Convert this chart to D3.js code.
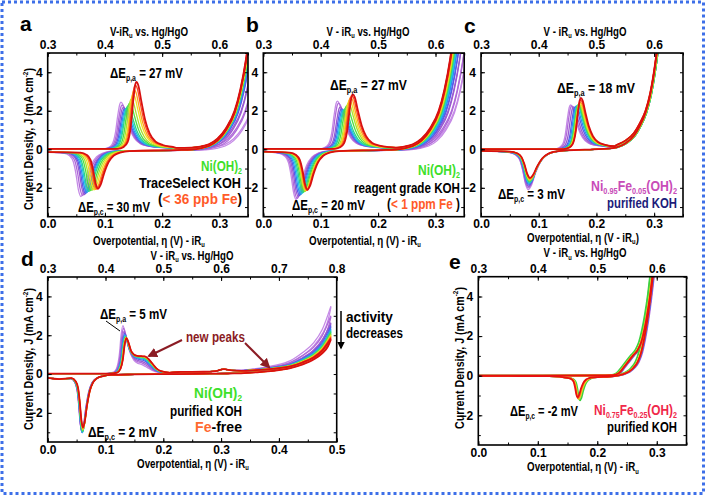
<!DOCTYPE html>
<html><head><meta charset="utf-8">
<script src="https://cdn.jsdelivr.net/npm/d3@7"></script>
<style>
body{margin:0;background:#fff}
svg{display:block}
text{font-family:'Liberation Sans',Arial,sans-serif;font-weight:bold}
</style>
</head><body>
<svg id="c" width="709" height="497"></svg>
<script>
// ---------------- DATA ----------------
const cycleColors = ['#c58ae6','#b06ad8','#9a5ad0','#5a5ae8','#2f8cf0','#20c4e0','#2ed38a','#4ee040','#a8e030','#f2e020','#ffa020','#ff4a1a','#d81010'];
const eColors = ['#b06ad8','#3d5ee8','#3dd040','#f2e020','#ff8a20','#e81010'];

const xTicks035 = [0, 0.1, 0.2, 0.3];
const xTicks05 = [0, 0.1, 0.2, 0.3, 0.4, 0.5];
const topLabels035 = ['0.3','0.4','0.5','0.6'];
const topLabels05 = ['0.3','0.4','0.5','0.6','0.7','0.8'];
const yTicks = [-2, 0, 2, 4];

// panel a : Ni(OH)2, TraceSelect KOH
const aPeakE = [0.128,0.130,0.132,0.134,0.136,0.138,0.140,0.143,0.146,0.149,0.151,0.153,0.155];
const aPeakJ = [2.45,2.30,2.18,2.10,2.10,2.15,2.25,2.40,2.60,2.85,3.10,3.35,3.50];
const aCathE = [0.058,0.061,0.064,0.066,0.068,0.070,0.072,0.075,0.078,0.081,0.084,0.086,0.088];
const aCathJ = [-2.45,-2.40,-2.35,-2.30,-2.25,-2.20,-2.18,-2.15,-2.12,-2.10,-2.08,-2.06,-2.05];
const aOerE  = [0.355,0.345,0.338,0.333,0.331,0.330,0.329,0.329,0.328,0.328,0.327,0.327,0.3265];

// panel b : Ni(OH)2, reagent grade KOH
const bPeakE = [0.129,0.131,0.134,0.136,0.138,0.140,0.142,0.145,0.148,0.150,0.152,0.154,0.156];
const bPeakJ = [2.50,2.40,2.20,2.10,2.05,2.05,2.10,2.25,2.40,2.55,2.70,2.80,2.85];
const bCathE = [0.057,0.059,0.061,0.063,0.065,0.067,0.069,0.071,0.073,0.074,0.075,0.076,0.077];
const bCathJ = [-2.60,-2.55,-2.45,-2.40,-2.35,-2.30,-2.25,-2.20,-2.18,-2.15,-2.13,-2.12,-2.10];
const bOerE  = [0.333,0.328,0.322,0.318,0.315,0.313,0.311,0.310,0.309,0.308,0.307,0.306,0.3055];

// panel c : Ni0.95Fe0.05(OH)2, purified KOH
const cPeakE = [0.155,0.157,0.160,0.163,0.165,0.167,0.168,0.169,0.170,0.171,0.172,0.1725,0.173];
const cPeakJ = [2.30,2.25,2.20,2.20,2.25,2.28,2.30,2.33,2.36,2.40,2.45,2.55,2.67];
const cCathE = [0.082,0.082,0.0825,0.083,0.083,0.0835,0.084,0.084,0.0845,0.0845,0.085,0.085,0.085];
const cCathJ = [-2.10,-2.00,-1.93,-1.86,-1.80,-1.75,-1.70,-1.66,-1.62,-1.58,-1.55,-1.52,-1.48];
const cOerE  = [0.287,0.287,0.286,0.286,0.286,0.287,0.287,0.287,0.286,0.286,0.285,0.285,0.285];

// panel d : Ni(OH)2, purified Fe-free KOH
const dPeakE = [0.130,0.131,0.132,0.133,0.133,0.134,0.134,0.135,0.135,0.135,0.136,0.136,0.136];
const dPeakJ = [2.50,2.35,2.20,2.10,2.02,1.97,1.93,1.91,1.89,1.88,1.87,1.86,1.85];
const dShoulderJ = [0.40,0.48,0.55,0.62,0.68,0.72,0.75,0.77,0.79,0.80,0.81,0.82,0.82];
const dCathE = [0.059,0.059,0.0595,0.0595,0.060,0.060,0.060,0.0605,0.0605,0.061,0.061,0.061,0.061];
const dCathJ = [-2.95,-2.95,-3.00,-3.02,-3.02,-3.00,-2.96,-2.92,-2.88,-2.85,-2.82,-2.78,-2.75];
const dEndJ  = [3.45,2.95,2.60,2.45,2.30,2.20,2.15,2.08,2.00,1.95,1.90,1.85,1.78];

// panel e : Ni0.75Fe0.25(OH)2, purified KOH
const eShift = [0.003,0.002,-0.003,0.000,0.001,0.001];
const eCathE = [0.169,0.169,0.171,0.169,0.168,0.167];
const eCathJ = [-1.15,-1.18,-1.25,-1.18,-1.14,-1.10];

// curve shapes (offset in V, fraction / current)
const anodicShape = [[-0.030,0],[-0.020,0.03],[-0.014,0.1],[-0.009,0.33],[-0.005,0.72],[-0.002,0.95],[0,1],[0.003,0.95],[0.008,0.7],[0.014,0.42],[0.021,0.22],[0.03,0.1],[0.042,0.045],[0.058,0.015]];
const cathodicShape = [[0.05,0.02],[0.035,0.06],[0.025,0.14],[0.017,0.3],[0.01,0.58],[0.004,0.9],[0,1],[-0.004,0.85],[-0.008,0.5],[-0.012,0.25],[-0.018,0.12],[-0.028,0.06]];
const oerAbFwd = [[-0.10,0.07],[-0.075,0.09],[-0.06,0.14],[-0.045,0.26],[-0.03,0.55],[-0.015,1.1],[0,2],[0.01,3.1],[0.02,4.7],[0.03,7]];
const oerAbRev = [[0.03,7],[0.02,4.6],[0.01,3.0],[0,1.9],[-0.015,1.0],[-0.03,0.45],[-0.045,0.17],[-0.06,0.05],[-0.075,-0.01],[-0.10,-0.04]];
const oerCFwd = [[-0.065,0.13],[-0.05,0.22],[-0.035,0.45],[-0.02,0.85],[-0.01,1.35],[0,2],[0.008,2.9],[0.015,4.1],[0.022,5.7],[0.03,8]];
const oerCRev = [[0.03,8],[0.022,5.6],[0.015,4.0],[0.008,2.8],[0,1.9],[-0.01,1.2],[-0.02,0.7],[-0.035,0.3],[-0.05,0.1],[-0.065,0.03],[-0.09,0.0]];
const dAnodicShape = [[-0.03,0,0],[-0.016,0.03,0],[-0.01,0.14,0],[-0.006,0.4,0],[-0.003,0.8,0],[0,1,0],[0.004,0.85,0.02],[0.008,0.6,0.1],[0.013,0.35,0.4],[0.019,0.15,0.75],[0.026,0.05,0.95],[0.032,0.02,1.0],[0.038,0,0.9],[0.045,0,0.6],[0.052,0,0.3],[0.06,0,0.12],[0.075,0,0.03]];
const dOerFwd = [[0.23,0.06,0],[0.27,0.07,0],[0.29,0.1,0],[0.305,0.2,0],[0.318,0.14,0],[0.335,0.08,0.02],[0.36,0.06,0.05],[0.39,0.04,0.1],[0.42,0.02,0.18],[0.44,0,0.3],[0.46,0,0.45],[0.475,0,0.65],[0.49,0,1.0]];
const dOerRev = [[0.49,0,1.0],[0.485,0,0.8],[0.475,0,0.6],[0.46,0,0.42],[0.44,0,0.27],[0.42,0,0.17],[0.39,0,0.09],[0.36,0,0.05],[0.33,0,0.02],[0.31,0.03,0],[0.28,0.02,0],[0.22,0,0],[0.15,-0.02,0],[0.11,-0.04,0]];
const eFwd = [[0,0],[0.2,0.01],[0.225,0.03],[0.235,0.12],[0.243,0.4],[0.252,0.75],[0.26,1.05],[0.267,1.3],[0.273,1.7],[0.278,2.3],[0.283,3.1],[0.288,4.1],[0.293,5.4],[0.3,7.5]];
const eRev = [[0.3,7.5],[0.293,5.2],[0.288,3.9],[0.283,2.8],[0.278,1.9],[0.273,1.2],[0.267,0.7],[0.26,0.4],[0.252,0.2],[0.243,0.08],[0.233,0],[0.22,-0.05],[0.2,-0.07]];

// ---------------- BUILDERS ----------------
function mono(pts, inc){
  const out=[];
  pts.forEach(p=>{ if(!out.length || (inc ? p[0]>out[out.length-1][0]+1e-6 : p[0]<out[out.length-1][0]-1e-6)) out.push(p); });
  return out;
}
function buildStd(i, P, T){
  const f=[[0,T.b0]];
  anodicShape.forEach(([dx,fr])=>{ const b = dx<=0?T.b0:T.b1; f.push([P.pe[i]+dx*T.wA, b+fr*(P.pj[i]-b)]); });
  T.oerF.forEach(([d,j])=>f.push([P.oe[i]+d, j]));
  const r=[];
  T.oerR.forEach(([d,j])=>r.push([P.oe[i]+d, j]));
  cathodicShape.forEach(([dx,fr])=>r.push([P.ce[i]+dx*T.wC, T.bR+fr*(P.cj[i]-T.bR)]));
  r.push([0,T.tail]);
  return {fwd:mono(f,true), rev:mono(r,false).reverse()};
}
function buildD(i){
  const f=[[0,0.02]];
  dAnodicShape.forEach(([dx,fm,fs])=>{ const b=dx<=0?0.02:0.05; f.push([dPeakE[i]+dx, b+fm*(dPeakJ[i]-b)+fs*dShoulderJ[i]]); });
  dOerFwd.forEach(([x,a,fr])=>f.push([x, 0.05+a+fr*dEndJ[i]]));
  const r=[];
  dOerRev.forEach(([x,a,fr])=>r.push([x, a+fr*dEndJ[i]]));
  cathodicShape.forEach(([dx,fr])=>r.push([dCathE[i]+dx*0.7, -0.05+fr*(dCathJ[i]+0.05)]));
  r.push([0.02,-0.26]); r.push([0,-0.2]);
  return {fwd:mono(f,true), rev:mono(r,false).reverse()};
}
function buildE(i){
  const f=eFwd.map(([x,j])=>[x===0?0:x+eShift[i], j]);
  const r=eRev.map(([x,j])=>[x+eShift[i], j]);
  cathodicShape.forEach(([dx,fr])=>r.push([eCathE[i]+dx*0.55, -0.06+fr*(eCathJ[i]+0.06)]));
  r.push([0.12,-0.02]); r.push([0,-0.01]);
  return {fwd:mono(f,true), rev:mono(r,false).reverse()};
}

const stdAB = {wA:1.1,wC:1.1,b0:0.02,b1:0.07,bR:-0.05,tail:-0.15,oerF:oerAbFwd,oerR:oerAbRev};
const stdB = Object.assign({}, stdAB, {tail:-0.12});
const stdC = {wA:1.0,wC:1.25,b0:0.01,b1:0.12,bR:-0.03,tail:-0.08,oerF:oerCFwd,oerR:oerCRev};

const curvesA = cycleColors.map((c,i)=>Object.assign(buildStd(i,{pe:aPeakE,pj:aPeakJ,ce:aCathE,cj:aCathJ,oe:aOerE},stdAB),{color:c}));
const curvesB = cycleColors.map((c,i)=>Object.assign(buildStd(i,{pe:bPeakE,pj:bPeakJ,ce:bCathE,cj:bCathJ,oe:bOerE},stdB),{color:c}));
const curvesC = cycleColors.map((c,i)=>Object.assign(buildStd(i,{pe:cPeakE,pj:cPeakJ,ce:cCathE,cj:cCathJ,oe:cOerE},stdC),{color:c}));
const curvesD = cycleColors.map((c,i)=>Object.assign(buildD(i),{color:c}));
const curvesE = eColors.map((c,i)=>Object.assign(buildE(i),{color:c}));

// ---------------- DRAW ----------------
const svg = d3.select('#c');
svg.append('rect').attr('x',2).attr('y',2).attr('width',701.5).attr('height',491.5)
  .attr('fill','none').attr('stroke','#3d6fe8').attr('stroke-width',3).attr('stroke-dasharray','3,3');

// text with sub/superscripts, squeezed horizontally to the width measured on the reference
function rich(x, y, parts, o){
  const size=o.size||12;
  const t=svg.append('text').attr('x',0).attr('y',size*0.35).attr('text-anchor',o.anchor||'start')
    .style('font-size',size+'px').attr('fill',o.fill||'#000');
  let cur=0;
  parts.forEach(p=>{
    if(typeof p==='string') p={t:p};
    const ts=t.append('tspan').text(p.t);
    if(p.c) ts.attr('fill',p.c);
    let target=0;
    if(p.sub){ ts.style('font-size',(size*0.6)+'px'); target=size*0.22; }
    if(p.sup){ ts.style('font-size',(size*0.6)+'px'); target=-size*0.42; }
    if(target!==cur){ ts.attr('dy',target-cur); cur=target; }
  });
  let sx=1;
  if(o.len){ const w=t.node().getComputedTextLength(); if(w>0) sx=o.len/w; }
  t.attr('transform',`translate(${x},${y})${o.rotate?' rotate(-90)':''} scale(${sx.toFixed(3)},1)`);
  return t;
}

function drawPanel(cfg){
  const x=d3.scaleLinear().domain([0,cfg.xmax]).range([cfg.l,cfg.r]);
  const y=d3.scaleLinear().domain([-3.5,5]).range([cfg.b,cfg.t]);
  svg.append('clipPath').attr('id','clip'+cfg.id).append('rect')
    .attr('x',cfg.l).attr('y',cfg.t).attr('width',cfg.r-cfg.l).attr('height',cfg.b-cfg.t);
  const lg=svg.append('g').attr('clip-path',`url(#clip${cfg.id})`);
  const line=d3.line().x(d=>x(d[0])).y(d=>y(d[1])).curve(d3.curveMonotoneX);
  cfg.curves.forEach((c,i)=>{
    const w = cfg.lw ? cfg.lw : (i===cfg.curves.length-1?1.8:1.3);
    [c.rev,c.fwd].forEach(pts=>lg.append('path').attr('d',line(pts)).attr('fill','none')
      .attr('stroke',c.color).attr('stroke-width',w).attr('stroke-linejoin','round'));
  });
  const minorX=d3.range(0,cfg.xmax+1e-9,0.05);
  const minorY=d3.range(-3,5.01,1);
  function style(sel){
    sel.select('.domain').remove();
    sel.attr('font-family',null).attr('font-size',null);
    sel.selectAll('text').style('font-size','12px').attr('fill','#000');
    sel.selectAll('line').attr('stroke','#000').attr('stroke-width',1);
  }
  svg.append('g').attr('transform',`translate(0,${cfg.b})`)
    .call(d3.axisBottom(x).tickValues(cfg.xt).tickFormat(d3.format('.1f')).tickSize(-4).tickPadding(3)).call(style);
  svg.append('g').attr('transform',`translate(0,${cfg.b})`)
    .call(d3.axisBottom(x).tickValues(minorX).tickFormat('').tickSize(-2.5)).call(style);
  svg.append('g').attr('transform',`translate(0,${cfg.t})`)
    .call(d3.axisTop(x).tickValues(cfg.xt).tickFormat((d,i)=>cfg.topLabels[i]).tickSize(-4).tickPadding(4)).call(style);
  svg.append('g').attr('transform',`translate(0,${cfg.t})`)
    .call(d3.axisTop(x).tickValues(minorX).tickFormat('').tickSize(-2.5)).call(style);
  svg.append('g').attr('transform',`translate(${cfg.l},0)`)
    .call(d3.axisLeft(y).tickValues(yTicks).tickFormat(d3.format('d')).tickSize(-4).tickPadding(5)).call(style);
  svg.append('g').attr('transform',`translate(${cfg.l},0)`)
    .call(d3.axisLeft(y).tickValues(minorY).tickFormat('').tickSize(-2.5)).call(style);
  svg.append('g').attr('transform',`translate(${cfg.r},0)`)
    .call(d3.axisRight(y).tickValues(minorY).tickFormat('').tickSize(-3)).call(style);
  svg.append('rect').attr('x',cfg.l).attr('y',cfg.t).attr('width',cfg.r-cfg.l).attr('height',cfg.b-cfg.t)
    .attr('fill','none').attr('stroke','#000').attr('stroke-width',1.6);
  svg.append('text').attr('x',cfg.letter[0]).attr('y',cfg.letter[1]).style('font-size','21px').text(cfg.id);
  rich(cfg.topTitle[0],cfg.topTitle[1],[cfg.topV,{t:'u',sub:true},' vs. Hg/HgO'],{anchor:'middle',size:12,len:cfg.topLen});
  rich(cfg.botTitle[0],cfg.botTitle[1],cfg.botParts,{anchor:'middle',size:12,len:112});
  if(cfg.yTitle) rich(cfg.l-19,cfg.yTitle,['Current Density, J (mA cm',{t:'-2',sup:true},')'],{anchor:'middle',size:12,rotate:true,len:142});
}

const botStd=['Overpotential, η (V) - iR',{t:'u',sub:true}];
const botC=['Overpotential, η (V - iR',{t:'u',sub:true},')'];

drawPanel({id:'a',l:47.7,r:248,t:53,b:216.7,xmax:0.35,xt:xTicks035,topLabels:topLabels035,curves:curvesA,
  letter:[20,31],topTitle:[149,31.5],topV:'V-iR',topLen:78,botTitle:[149,240.5],botParts:botStd,yTitle:139});
drawPanel({id:'b',l:263.3,r:464.2,t:53,b:216.7,xmax:0.35,xt:xTicks035,topLabels:topLabels035,curves:curvesB,
  letter:[246,32],topTitle:[368,31.5],topV:'V - iR',topLen:83,botTitle:[365,240.5],botParts:botStd});
drawPanel({id:'c',l:481,r:683,t:53,b:216.7,xmax:0.35,xt:xTicks035,topLabels:topLabels035,curves:curvesC,
  letter:[464,33],topTitle:[585,31.5],topV:'V - iR',topLen:83,botTitle:[583,237.5],botParts:botC});
drawPanel({id:'d',l:47.7,r:336.7,t:277,b:442,xmax:0.5,xt:xTicks05,topLabels:topLabels05,curves:curvesD,
  letter:[21,266],topTitle:[192,255.5],topV:'V - iR',topLen:83,botTitle:[193,463.5],botParts:botStd,yTitle:359});
drawPanel({id:'e',l:478.3,r:686.5,t:276.7,b:445,xmax:0.35,xt:xTicks035,topLabels:topLabels035,curves:curvesE,lw:1.8,
  letter:[449,269],topTitle:[585,253],topV:'V - iR',topLen:83,botTitle:[583,467],botParts:botStd,yTitle:358});

// ---------------- ANNOTATIONS ----------------
const A=14;
rich(110,73,['ΔE',{t:'p,a',sub:true},' = 27 mV'],{size:A,len:73});
rich(78,207,['ΔE',{t:'p,c',sub:true},' = 30 mV'],{size:A,len:72});
rich(242,166,['Ni(OH)',{t:'2',sub:true}],{size:A,anchor:'end',fill:'#3ee02a',len:41});
rich(241,183,['TraceSelect KOH'],{size:A,anchor:'end',len:102});
rich(242,199,['(',{t:'< 36 ppb Fe',c:'#ff5a28'},')'],{size:A,anchor:'end',len:84});

rich(330,85,['ΔE',{t:'p,a',sub:true},' = 27 mV'],{size:A,len:77});
rich(292,205,['ΔE',{t:'p,c',sub:true},' = 20 mV'],{size:A,len:73});
rich(460,170,['Ni(OH)',{t:'2',sub:true}],{size:A,anchor:'end',fill:'#3ee02a',len:42});
rich(460,188,['reagent grade KOH'],{size:A,anchor:'end',len:106});
rich(460,204,['(',{t:'< 1 ppm Fe ',c:'#ff5a28'},')'],{size:A,anchor:'end',len:73});

rich(557,88,['ΔE',{t:'p,a',sub:true},' = 18 mV'],{size:A,len:78});
rich(498,194,['ΔE',{t:'p,c',sub:true},' = 3 mV'],{size:A,len:67});
rich(677,186,['Ni',{t:'0.95',sub:true},'Fe',{t:'0.05',sub:true},'(OH)',{t:'2',sub:true}],{size:A,anchor:'end',fill:'#c84cb8',len:86});
rich(677,203,['purified KOH'],{size:A,anchor:'end',fill:'#1c1c7a',len:70});

rich(100,314,['ΔE',{t:'p,a',sub:true},' = 5 mV'],{size:A,len:67});
svg.append('line').attr('x1',106).attr('y1',321).attr('x2',120).attr('y2',331).attr('stroke','#000').attr('stroke-width',1);
rich(186,337,['new peaks'],{size:A,fill:'#8b1c24',len:59});
const defs=svg.append('defs');
defs.append('marker').attr('id','arr').attr('viewBox','0 0 10 10').attr('refX',8).attr('refY',5)
  .attr('markerWidth',5).attr('markerHeight',5).attr('orient','auto')
  .append('path').attr('d','M0,0L10,5L0,10z').attr('fill','#8b1c24');
defs.append('marker').attr('id','arrk').attr('viewBox','0 0 10 10').attr('refX',8).attr('refY',5)
  .attr('markerWidth',5).attr('markerHeight',5).attr('orient','auto')
  .append('path').attr('d','M0,0L10,5L0,10z').attr('fill','#000');
svg.append('line').attr('x1',182).attr('y1',340).attr('x2',149).attr('y2',356).attr('stroke','#8b1c24').attr('stroke-width',2).attr('marker-end','url(#arr)');
svg.append('line').attr('x1',245).attr('y1',343).attr('x2',269).attr('y2',367).attr('stroke','#8b1c24').attr('stroke-width',2).attr('marker-end','url(#arr)');
rich(242,393,['Ni(OH)',{t:'2',sub:true}],{size:A,anchor:'end',fill:'#3ee02a',len:48});
rich(242,411,['purified KOH'],{size:A,anchor:'end',len:72});
rich(242,427,[{t:'Fe',c:'#ff6a30'},'-free'],{size:A,anchor:'end',len:47});
rich(88,432,['ΔE',{t:'p,c',sub:true},' = 2 mV'],{size:A,len:69});
rich(346,317,['activity'],{size:A,len:47});
rich(346,333,['decreases'],{size:A,len:57});
svg.append('line').attr('x1',341).attr('y1',311).attr('x2',341).attr('y2',348).attr('stroke','#000').attr('stroke-width',1.5).attr('marker-end','url(#arrk)');

rich(510,411,['ΔE',{t:'p,c',sub:true},' = -2 mV'],{size:A,len:68});
rich(677,410,['Ni',{t:'0.75',sub:true},'Fe',{t:'0.25',sub:true},'(OH)',{t:'2',sub:true}],{size:A,anchor:'end',fill:'#f0284a',len:83});
rich(677,427,['purified KOH'],{size:A,anchor:'end',len:70});
</script>
</body></html>
